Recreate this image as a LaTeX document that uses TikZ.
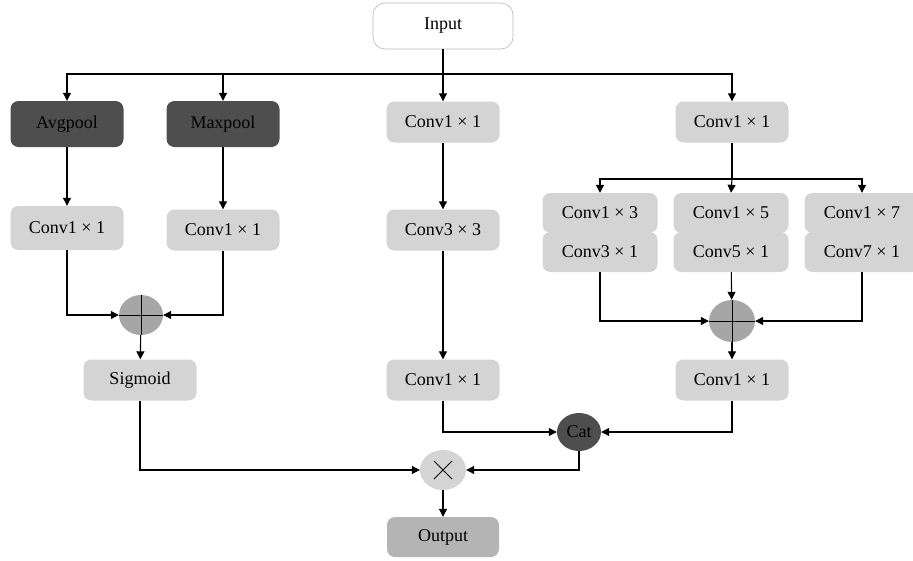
\documentclass[tikz,border=0pt]{standalone}
\usepackage{fontspec}
\setmainfont{Liberation Serif}
\usetikzlibrary{arrows.meta,shapes.geometric}
\definecolor{boxlight}{HTML}{D4D4D4}
\definecolor{boxdark}{HTML}{4E4E4E}
\definecolor{plusgray}{HTML}{A6A6A6}
\definecolor{outgray}{HTML}{B4B4B4}
\newcommand{\fs}{\fontsize{18}{20}\selectfont}
\tikzset{
  lbox/.style={rounded corners=8pt, fill=boxlight, minimum width=113pt, minimum height=41pt, inner sep=0pt, font=\fs},
  dbox/.style={lbox, fill=boxdark, minimum height=46pt},
  opnode/.style={ellipse, inner sep=0pt, font=\fs},
  arr/.style={-{Triangle[length=8pt,width=8pt]}, line width=1.1pt},
  ln/.style={line width=1.1pt},
  sym/.style={line width=0.9pt}
}
\begin{document}
\begin{tikzpicture}[x=1pt,y=-1pt]
\useasboundingbox (0,0) rectangle (913,560);
% nodes
\node[rounded corners=12pt, draw=gray!55, line width=0.6pt, fill=white, minimum width=140pt, minimum height=46pt, inner sep=0pt, font=\fs] (in) at (443,26) {Input};
\node[dbox] (avg) at (67,124) {Avgpool};
\node[dbox] (max) at (223,124) {Maxpool};
\node[lbox] (c1m) at (443,122) {Conv1 × 1};
\node[lbox] (c1r) at (732,122) {Conv1 × 1};
\node[lbox, minimum height=44pt] (ca) at (67,228) {Conv1 × 1};
\node[lbox] (cb) at (223,230) {Conv1 × 1};
\node[opnode, fill=plusgray, minimum width=44pt, minimum height=40pt] (plusL) at (141,315) {};
\node[lbox] (sig) at (140,380) {Sigmoid};
\node[lbox] (c33) at (443,230) {Conv3 × 3};
\node[lbox] (c11m) at (443,380) {Conv1 × 1};
\node[lbox, minimum width=115pt, minimum height=40pt] (s1a) at (600,213) {Conv1 × 3};
\node[lbox, minimum width=115pt, minimum height=40pt] (s1b) at (600,252) {Conv3 × 1};
\node[lbox, minimum width=115pt, minimum height=40pt] (s2a) at (731,213) {Conv1 × 5};
\node[lbox, minimum width=115pt, minimum height=40pt] (s2b) at (731,252) {Conv5 × 1};
\node[lbox, minimum width=115pt, minimum height=40pt] (s3a) at (862,213) {Conv1 × 7};
\node[lbox, minimum width=115pt, minimum height=40pt] (s3b) at (862,252) {Conv7 × 1};
\node[opnode, fill=plusgray, minimum width=46pt, minimum height=42pt] (plusR) at (732,321) {};
\node[lbox] (c11r) at (732,380) {Conv1 × 1};
\node[opnode, fill=boxdark, minimum width=44pt, minimum height=38pt] (cat) at (579,432) {Cat};
\node[opnode, fill=boxlight, minimum width=46pt, minimum height=40pt] (times) at (443,470) {};
\node[lbox, fill=outgray, minimum width=112pt, minimum height=40pt] (out) at (443,537) {Output};
% symbols inside operators
\draw[sym] (plusL.west) -- (plusL.east);
\draw[sym] (plusL.north) -- (plusL.south);
\draw[sym] (plusR.west) -- (plusR.east);
\draw[sym] (plusR.north) -- (plusR.south);
\draw[sym] ([shift={(-9,-9)}]times.center) -- ([shift={(9,9)}]times.center);
\draw[sym] ([shift={(-9,9)}]times.center) -- ([shift={(9,-9)}]times.center);
% connectors
\coordinate (split) at (443,74);
\coordinate (split2) at (732,179);
\draw[arr] (in) -- (c1m);
\draw[arr] (split) -| (avg.north);
\draw[arr] (split) -| (max.north);
\draw[arr] (split) -| (c1r.north);
\draw[arr] (avg) -- (ca);
\draw[arr] (max) -- (cb);
\draw[arr] (ca.south) |- (plusL);
\draw[arr] (cb.south) |- (plusL);
\draw[arr] (plusL) -- (sig);
\draw[arr] (sig.south) |- (times);
\draw[arr] (c1m) -- (c33);
\draw[arr] (c33) -- (c11m);
\draw[arr] (c11m.south) |- (cat);
\draw[ln] (c1r) -- (split2);
\draw[arr] (split2) -| (s1a.north);
\draw[arr] (split2) -- (s2a.north);
\draw[arr] (split2) -| (s3a.north);
\draw[arr] (s1b.south) |- (plusR);
\draw[arr] (s2b) -- (plusR);
\draw[arr] (s3b.south) |- (plusR);
\draw[arr] (plusR) -- (c11r);
\draw[arr] (c11r.south) |- (cat);
\draw[arr] (cat.south) |- (times);
\draw[arr] (times) -- (out);
\end{tikzpicture}
\end{document}
